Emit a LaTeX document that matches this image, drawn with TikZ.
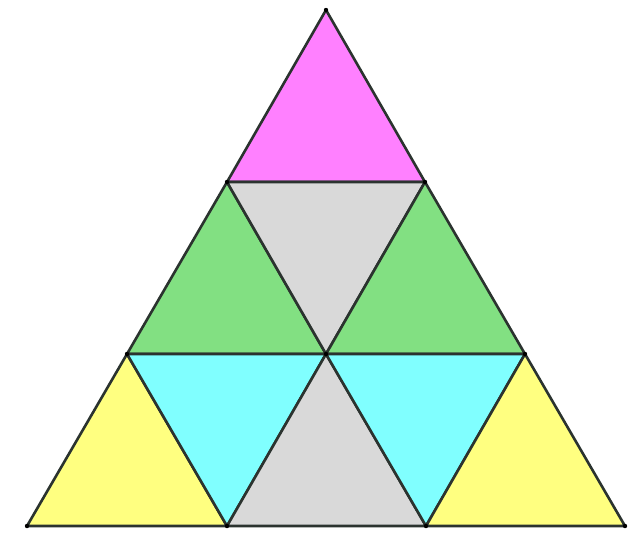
\documentclass[tikz,border=0pt]{standalone}
\definecolor{edge}{HTML}{2B332F}
\definecolor{cmag}{HTML}{FF80FF}
\definecolor{cgray}{HTML}{D9D9D9}
\definecolor{cgreen}{HTML}{82E082}
\definecolor{ccyan}{HTML}{80FFFF}
\definecolor{cyel}{HTML}{FFFF80}
\begin{document}
\begin{tikzpicture}[x=1pt,y=-1pt,
  tri/.style={draw=edge,line width=2.6pt,line join=round}]
\useasboundingbox (0,0) rectangle (636,542);
\fill[white] (0,0) rectangle (636,542);
\coordinate (a) at (326,10);
\coordinate (b1) at (227,182);
\coordinate (b2) at (425,182);
\coordinate (c1) at (127,354);
\coordinate (c2) at (326,354);
\coordinate (c3) at (525,354);
\coordinate (d1) at (27,526);
\coordinate (d2) at (227,526);
\coordinate (d3) at (426,526);
\coordinate (d4) at (625,526);
\draw[tri,fill=cmag] (a) -- (b1) -- (b2) -- cycle;
\draw[tri,fill=cgreen] (b1) -- (c1) -- (c2) -- cycle;
\draw[tri,fill=cgray] (b1) -- (b2) -- (c2) -- cycle;
\draw[tri,fill=cgreen] (b2) -- (c2) -- (c3) -- cycle;
\draw[tri,fill=cyel] (c1) -- (d1) -- (d2) -- cycle;
\draw[tri,fill=ccyan] (c1) -- (c2) -- (d2) -- cycle;
\draw[tri,fill=cgray] (c2) -- (d2) -- (d3) -- cycle;
\draw[tri,fill=ccyan] (c2) -- (c3) -- (d3) -- cycle;
\draw[tri,fill=cyel] (c3) -- (d3) -- (d4) -- cycle;
\foreach \p in {a,b1,b2,c1,c2,c3,d1,d2,d3,d4}
  \fill[black] (\p) circle (2.2pt);
\end{tikzpicture}
\end{document}
